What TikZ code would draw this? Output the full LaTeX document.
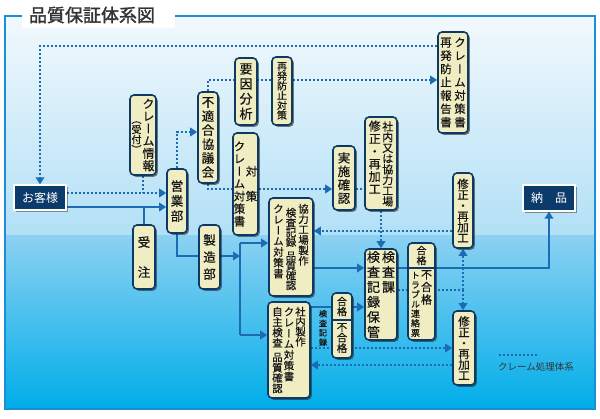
\documentclass[tikz,border=0pt]{standalone}
\usepackage{fontspec}
\newfontfamily\jp[RawFeature={+vert},FakeBold=0.5]{Noto Sans CJK JP}
\newfontfamily\jph{Noto Sans CJK JP}
\newfontfamily\jpt[FakeBold=1.6]{Noto Sans CJK JP}
\usetikzlibrary{arrows.meta,shadows}
\definecolor{lineblue}{HTML}{1B6CB4}
\definecolor{boxfill}{HTML}{F0EDC3}
\definecolor{boxdraw}{HTML}{0D3A64}
\definecolor{navy}{HTML}{0B3B6B}
\definecolor{frameblue}{HTML}{1C8ED5}
\definecolor{bgA}{HTML}{F2F9FD}
\definecolor{bgB}{HTML}{B2E0F6}
\definecolor{bgC}{HTML}{8CD1F2}
\definecolor{bgD}{HTML}{00ADE9}
\definecolor{titlegray}{HTML}{333333}
\definecolor{ink}{HTML}{161616}
\pgfdeclarelayer{bg}\pgfdeclarelayer{lines}\pgfsetlayers{bg,lines,main}
\def\vchars#1{\ifx#1\relax\else\ifx#1|\vskip4pt\relax\else\hbox to 1em{\hss#1\hss}\fi\expandafter\vchars\fi}
\newcommand\V[3]{\vtop{\jp\fontsize{#1pt}{#2pt}\selectfont\baselineskip=#2pt\lineskiplimit=-100pt\lineskip=0pt\vchars#3\relax}}
\begin{document}
\begin{tikzpicture}[x=1pt,y=-1pt,
  box/.style={draw=boxdraw,line width=1.6pt,fill=boxfill,rounded corners=4pt,inner sep=0pt,text=ink,
    drop shadow={shadow xshift=1.8pt,shadow yshift=-1.8pt,opacity=0.6,fill=black!85}},
  dbox/.style={draw=white,line width=1.2pt,fill=navy,inner sep=0pt,text=white,
    font=\jph\fontsize{12pt}{12pt}\selectfont,
    drop shadow={shadow xshift=1.8pt,shadow yshift=-1.8pt,opacity=0.5,fill=black!80}},
  txt/.style={inner sep=0pt,text=ink},
  conn/.style={draw=lineblue,line width=2.2pt},
  dotc/.style={draw=lineblue,line width=2.2pt,dash pattern=on 2.2pt off 1.8pt},
  arr/.style={-{Triangle[length=7pt,width=8.5pt]}},
]
\useasboundingbox (0,0) rectangle (600,418);
\begin{pgfonlayer}{bg}
\fill[white] (0,0) rectangle (600,418);
\shade[top color=bgA,bottom color=bgB] (5,16) rectangle (595,235);
\shade[top color=bgC,bottom color=bgD] (5,235) rectangle (595,409);
\draw[frameblue,line width=2pt] (5,16) rectangle (595,409);
\fill[white] (22,0) rectangle (175,28);
\end{pgfonlayer}

\node[txt,text=titlegray,font=\jpt\fontsize{18pt}{18pt}\selectfont] (title) at (92,15) {品質保証体系図};

\node[dbox,minimum width=52pt,minimum height=25pt] (okyaku) at (40,197.5) {お客様};
\node[dbox,minimum width=52pt,minimum height=26pt] (nohin) at (549,198) {納　品};

\node[box,minimum width=26pt,minimum height=80pt] (claim) at (143,135) {\raisebox{-15pt}{\V{10}{10}{（受付）}}\hspace{1pt}\V{12}{12.4}{クレーム情報}};
\node[box,minimum width=22pt,minimum height=64pt] (juchu) at (144,257) {\V{12.5}{15}{受~注}};
\node[box,minimum width=20pt,minimum height=64pt] (eigyo) at (177,201) {\V{12.5}{15}{営業部}};
\node[box,minimum width=20pt,minimum height=91pt] (futeki) at (208,137.5) {\V{12.5}{14}{不適合協議会}};
\node[box,minimum width=22pt,minimum height=67pt] (youin) at (246,91.5) {\V{13}{15}{要因分析}};
\node[box,minimum width=20pt,minimum height=68pt] (saihatsu) at (282,91) {\V{10}{9.8}{再発防止対策}};
\node[box,minimum width=25pt,minimum height=102pt] (taisaku) at (245.5,184) {\V{11.5}{12.5}{クレーム対策書}\hspace{0.5pt}\V{11.5}{12.5}{~~対~策}};
\node[box,minimum width=21pt,minimum height=64pt] (seizo) at (209.5,257) {\V{12.5}{17}{製造部}};
\node[box,minimum width=44pt,minimum height=98pt] (kyoryoku) at (291,247) {\V{10.5}{10.8}{クレーム対策書}\hspace{2pt}\raisebox{-4pt}{\V{10.5}{9.8}{検査記録|品質確認}}\hspace{2pt}\V{10.5}{10.4}{協力工場製作}};
\node[box,minimum width=42pt,minimum height=96pt] (shanai) at (289,350) {\V{10.5}{10.4}{自主検査|品質確認}\hspace{1pt}\V{10.5}{10.8}{クレーム対策書}\hspace{1pt}\V{10.5}{10}{社内製作}};
\node[box,minimum width=22pt,minimum height=64pt] (jisshi) at (344,178) {\V{12.5}{13.5}{実施確認}};
\node[box,minimum width=32pt,minimum height=93pt] (shusei) at (381,163.5) {\V{12}{12.6}{修正・再加工}\hspace{1.5pt}\V{11}{10.7}{社内又は協力工場}};
\node[box,minimum width=32pt,minimum height=91pt] (kensa) at (381,294.5) {\V{13}{15}{検査記録保管}\hspace{2pt}\V{13}{15}{検査課}};
\node[box,minimum width=27pt,minimum height=97pt] (gokakuA) at (421.5,291.5) {};
\node[box,minimum width=20pt,minimum height=65pt] (gokakuB) at (342,325.5) {};
\node[box,minimum width=20pt,minimum height=75pt] (fixA) at (463,210.5) {\V{11.5}{10.8}{修正・再加工}};
\node[box,minimum width=22pt,minimum height=74pt] (fixB) at (464,348) {\V{11.5}{10.8}{修正・再加工}};
\node[box,minimum width=30pt,minimum height=101pt] (report) at (453,82.5) {\V{11.5}{13.3}{再発防止報告書}\hspace{2.5pt}\V{11.5}{13.3}{クレーム対策書}};

\draw[boxdraw,line width=1.3pt] (gokakuA.west |- 0,268) -- (gokakuA.east |- 0,268);
\draw[boxdraw,line width=1.3pt] (gokakuB.west |- 0,320) -- (gokakuB.east |- 0,320);
\node[txt] (gAtop) at (421.5,255.5) {\V{10}{10}{合格}};
\node[txt,anchor=north] (gAbot) at (421.5,270) {\V{9}{9.6}{トラブル連絡票}\hspace{1pt}\V{11}{12.5}{不合格}};
\node[txt] (gBtop) at (342,306.5) {\V{10}{10}{合格}};
\node[txt] (gBbot) at (342,338) {\V{10.5}{10.5}{不合格}};
\node[txt] (kirokulbl) at (323,328) {\V{8}{9.5}{検査記録}};
\node[txt,text=titlegray,font=\jph\fontsize{9.5pt}{9.5pt}\selectfont] (legend) at (536,367) {クレーム処理体系};

\begin{pgfonlayer}{lines}
\coordinate (bartop) at (240,243);
\coordinate (barmid) at (240,256);
\coordinate (barbot) at (240,335);
\coordinate (jn) at (463,290);
\coordinate (lg1) at (499,355);
\coordinate (lg2) at (539,355);
% solid connectors
\draw[conn,arr] (okyaku.east |- 0,207) -- (eigyo.west |- 0,207);
\draw[conn] (juchu.north) -- (juchu.north |- 0,207);
\draw[conn,arr] (eigyo.south) |- (barmid);
\draw[conn] (bartop) -- (barbot);
\draw[conn,arr] (bartop) -- (kyoryoku.west |- bartop);
\draw[conn,arr] (barbot) -- (shanai.west |- barbot);
\draw[conn,arr] (kyoryoku.east |- 0,268) -- (kensa.west |- 0,268);
\draw[conn,arr] (kensa.east |- 0,268) -| (nohin.south);
\draw[conn,arr] (shanai.east |- 0,307) -- (kensa.west |- 0,307);
% dotted connectors
\draw[dotc,arr] (report.west |- 0,46) -| (okyaku.north);
\draw[dotc,arr] (futeki.north) |- (report.west |- 0,80);
\draw[dotc,arr] (okyaku.east |- 0,193) -- (eigyo.west |- 0,193);
\draw[dotc] (claim.south) -- (claim.south |- 0,193);
\draw[dotc,arr] (eigyo.north) |- (futeki.west |- 0,132);
\draw[dotc,arr] (futeki.south) |- (jisshi.west |- 0,189);
\draw[dotc] (jisshi.east |- 0,189) -- (shusei.west |- 0,189);
\draw[dotc,arr] (shusei.south) -- (kensa.north);
\draw[dotc,arr] (fixA.west |- 0,231) -- (kyoryoku.east |- 0,231);
\draw[dotc] (kensa.east |- jn) -- (jn);
\draw[dotc,arr] (jn) -- (fixA.south);
\draw[dotc,arr] (jn) -- (jn |- fixB.north);
\draw[dotc,arr] (shanai.east |- 0,348) -- (fixB.west |- 0,348);
\draw[dotc,arr] (fixB.west |- 0,365) -- (shanai.east |- 0,365);
\draw[dotc] (lg1) -- (lg2);
\end{pgfonlayer}
\end{tikzpicture}
\end{document}
